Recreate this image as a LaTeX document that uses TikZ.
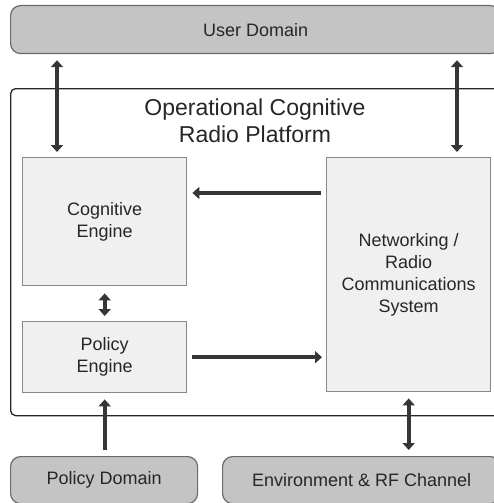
\documentclass[tikz,border=0pt]{standalone}
\usepackage{fontspec}
\setmainfont{Liberation Sans}
\usetikzlibrary{arrows.meta}
\definecolor{domfill}{HTML}{C4C4C4}
\definecolor{domline}{HTML}{6A6A6A}
\definecolor{boxfill}{HTML}{F0F0F0}
\definecolor{boxline}{HTML}{888888}
\definecolor{arrowcol}{HTML}{363636}
\begin{document}
\begin{tikzpicture}[x=1pt,y=-1pt,
  dombox/.style={draw=domline, fill=domfill, line width=1.2pt, rounded corners=10pt},
  enginebox/.style={draw=boxline, fill=boxfill, line width=1.4pt},
  boxtext/.style={font=\fontsize{18}{22}\selectfont, align=center, text=black!85},
  flowarrow/.style={draw=arrowcol, line width=4.2pt, -{Triangle[length=7pt,width=12pt]}},
  bidir/.style={draw=arrowcol, line width=4.2pt, {Triangle[length=7pt,width=12pt]}-{Triangle[length=7pt,width=12pt]}}]
\useasboundingbox (0,0) rectangle (494,503);
\clip (0,0) rectangle (494,503);
\fill[white] (0,0) rectangle (494,503);

% outer domains
\node[dombox, minimum width=490pt, minimum height=48pt, anchor=north west] (user) at (10,5) {};
\node[boxtext] (usertxt) at (user.center) {User Domain};
\node[dombox, minimum width=187pt, minimum height=47pt, anchor=north west] (poldom) at (10,456) {};
\node[boxtext] (poldomtxt) at (poldom.center) {Policy Domain};
\node[dombox, minimum width=278pt, minimum height=47pt, anchor=north west] (env) at (222,456) {};
\node[boxtext] (envtxt) at (env.center) {Environment \& RF Channel};

% platform frame
\node[draw=black!85, fill=white, line width=1.3pt, rounded corners=5pt,
      minimum width=492pt, minimum height=327pt, anchor=north west] (platform) at (10,88) {};
\node[font=\fontsize{23}{27}\selectfont, align=center, text=black!85] (title) at (255,121)
  {Operational Cognitive\\Radio Platform};

% engines
\node[enginebox, minimum width=164pt, minimum height=128pt, anchor=north west] (cog) at (22,157) {};
\node[boxtext] (cogtxt) at (cog.center) {Cognitive\\Engine};
\node[enginebox, minimum width=164pt, minimum height=71pt, anchor=north west] (pol) at (22,321) {};
\node[boxtext] (poltxt) at (pol.center) {Policy\\Engine};
\node[enginebox, minimum width=164pt, minimum height=234pt, anchor=north west] (net) at (326,157) {};
\node[boxtext] (nettxt) at (net.center) {Networking /\\Radio\\Communications\\System};

% connector guide positions
\coordinate (ua) at (57,0);
\coordinate (ub) at (457,0);
\coordinate (ha) at (0,193);

% connectors
\draw[bidir, shorten <=6pt, shorten >=5pt] (user.south -| ua) -- (cog.north -| ua);
\draw[bidir, shorten <=6pt, shorten >=5pt] (user.south -| ub) -- (net.north -| ub);
\draw[flowarrow, shorten <=5pt, shorten >=5pt] (net.west |- ha) -- (cog.east |- ha);
\draw[bidir, shorten <=7pt, shorten >=5pt] (cog.south) -- (pol.north);
\draw[flowarrow, shorten <=5pt, shorten >=4pt] (pol.east) -- (net.west |- pol.east);
\draw[flowarrow, shorten <=6pt, shorten >=6pt] (poldom.north -| pol.south) -- (pol.south);
\draw[bidir, shorten <=6pt, shorten >=6pt] (net.south) -- (env.north -| net.south);
\end{tikzpicture}
\end{document}
